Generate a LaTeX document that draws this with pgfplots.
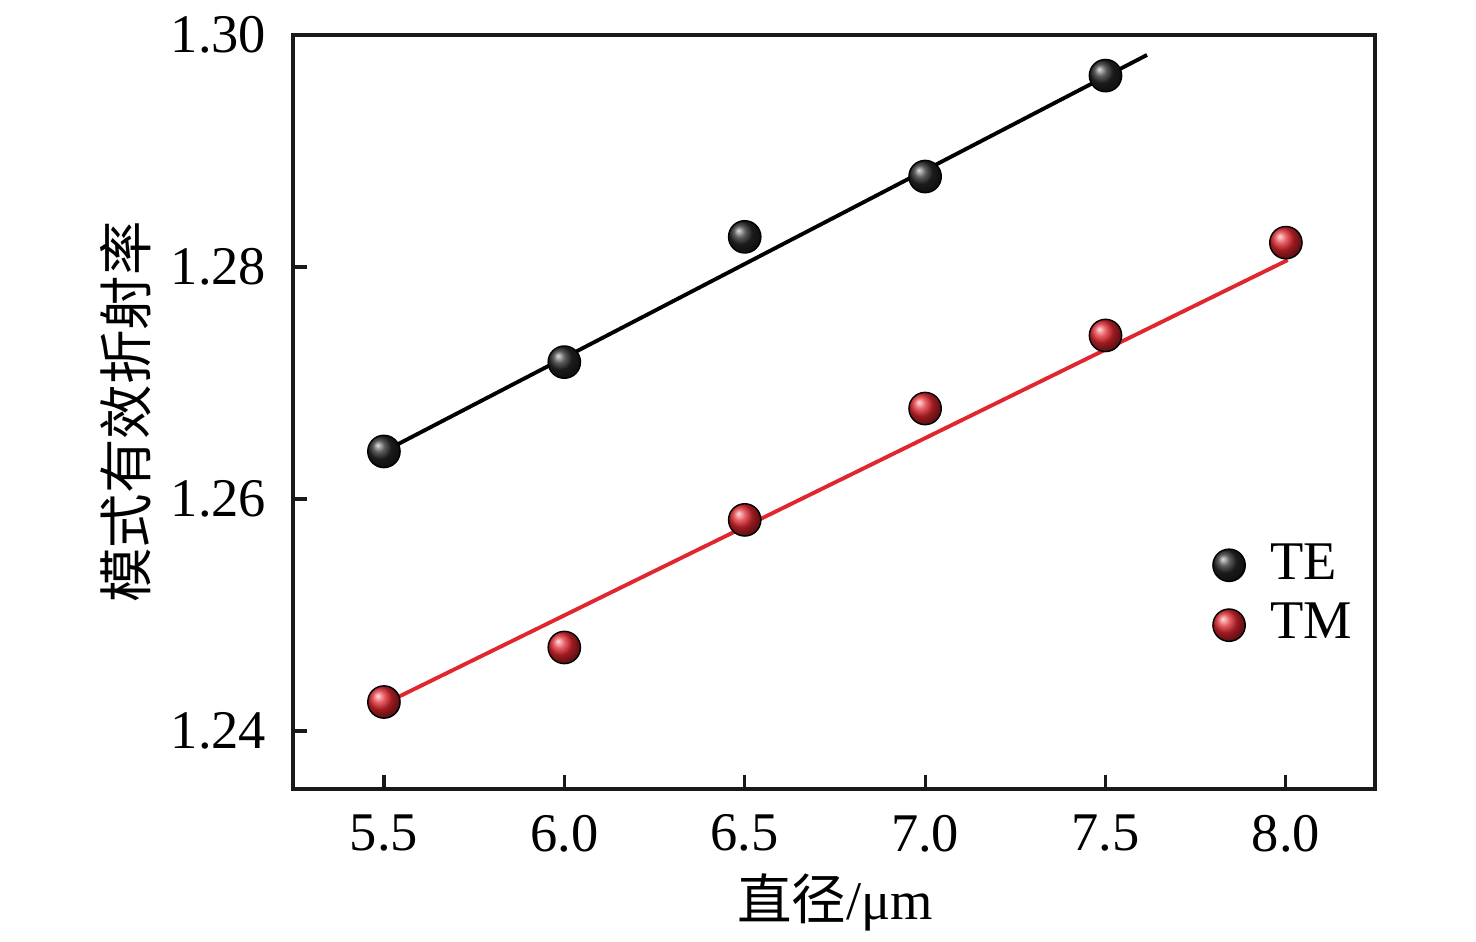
\documentclass[border=0pt]{standalone}
\usepackage{fontspec}
\setmainfont{Liberation Serif}
\newfontfamily\cjk{Noto Sans CJK SC}
\usepackage{pgfplots}
\pgfplotsset{compat=1.18}
\definecolor{tmred}{HTML}{E0262E}
\begin{document}
\fontsize{15.5}{18}\selectfont
\begin{tikzpicture}
\begin{axis}[
  name=ax,
  at={(0,0)}, anchor=south west,
  scale only axis,
  width=10.82cm, height=7.54cm,
  xmin=5.248, xmax=8.247,
  ymin=1.235, ymax=1.30,
  xtick={5.5,6.0,6.5,7.0,7.5,8.0},
  ytick={1.24,1.26,1.28,1.30},
  xticklabels={5.5,6.0,6.5,7.0,7.5,8.0},
  yticklabels={1.24,1.26,1.28,1.30},
  tick align=inside,
  xtick pos=bottom, ytick pos=left,
  major tick length=0.14cm,
  axis line style={line width=0.9pt, black!90},
  every tick/.style={line width=0.9pt, black!90},
  xticklabel style={font=\fontsize{15.5}{18}\selectfont, yshift=-0.07cm},
  yticklabel style={font=\fontsize{15.5}{18}\selectfont, xshift=-0.08cm},
  xlabel={{\cjk 直径}/μm},
  ylabel={\cjk 模式有效折射率},
  xlabel style={at={(axis description cs:0.501,-0.151)}, anchor=center, font=\fontsize{15.5}{18}\selectfont},
  ylabel style={at={(axis description cs:-0.155,0.5)}, anchor=center, rotate=0, font=\fontsize{15.5}{18}\selectfont},
  legend style={draw=none, fill=none, at={(axis description cs:0.846,0.257)}, anchor=west,
    font=\fontsize{15.5}{18}\selectfont, row sep=0.02cm, inner sep=0pt},
  legend cell align=left,
  legend image code/.code={\path[draw=none] (0cm,0cm) -- (0.54cm,0cm); \draw[#1] plot coordinates {(0.2cm,0cm)};},
]
\addplot[black, line width=1.1pt, forget plot] coordinates {(5.5,1.2641) (7.615,1.29828)};
\addplot[tmred, line width=1.1pt, forget plot] coordinates {(5.5,1.24233) (8.005,1.2806)};
\addplot[only marks, mark=ball, mark size=4.6pt, mark options={ball color=black!85}] coordinates {
  (5.5,1.2641) (6.0,1.2718) (6.5,1.2826) (7.0,1.2878) (7.5,1.2965)};
\addplot[only marks, mark=ball, mark size=4.6pt, mark options={ball color=tmred}] coordinates {
  (5.5,1.2425) (6.0,1.2472) (6.5,1.2582) (7.0,1.2678) (7.5,1.2741) (8.0,1.2821)};
\legend{TE,TM}
\end{axis}
\pgfresetboundingbox
\path[use as bounding box] (-2.93cm,-1.52cm) rectangle (11.83cm,7.89cm);
\end{tikzpicture}
\end{document}
